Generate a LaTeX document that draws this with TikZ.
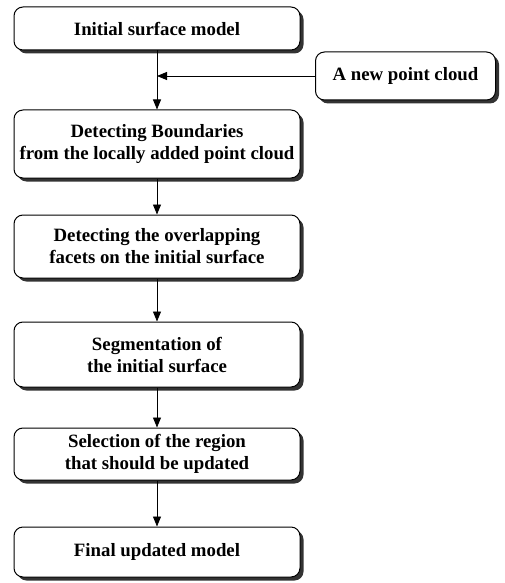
\documentclass[tikz,border=0pt]{standalone}
\usepackage{fontspec}
\setmainfont{Liberation Serif}
\usetikzlibrary{arrows.meta,shadows}
\begin{document}
\begin{tikzpicture}[x=1pt,y=1pt,
  flowbox/.style={draw=black, line width=1pt, rounded corners=9pt, fill=white,
    minimum width=286pt, align=center, font=\fontsize{18.8}{22}\selectfont\bfseries,
    drop shadow={shadow xshift=3.5pt, shadow yshift=-3.5pt, fill=black!80, opacity=1}},
  arr/.style={draw=black, line width=0.9pt, -{Triangle[length=10pt,width=8pt]}}]
\useasboundingbox (0,0) rectangle (505,-583);
\node[flowbox, minimum height=43pt] (b1) at (157,-28.5) {Initial surface model};
\node[flowbox, minimum width=180pt, minimum height=48pt] (pc) at (405.5,-76) {A new point cloud};
\node[flowbox, minimum height=68pt] (b2) at (157,-144) {Detecting Boundaries\\from the locally added point cloud};
\node[flowbox, minimum height=63pt] (b3) at (157,-246.5) {Detecting the overlapping\\facets on the initial surface};
\node[flowbox, minimum height=65pt] (b4) at (157,-354.5) {Segmentation of\\the initial surface};
\node[flowbox, minimum height=52pt] (b5) at (157,-454) {Selection of the region\\that should be updated};
\node[flowbox, minimum height=50pt] (b6) at (157,-552) {Final updated model};
\draw[arr] (b1) -- (b2);
\coordinate (m) at (b1.south |- pc.west);
\draw[arr] (pc.west) -- (m);
\draw[arr] (b2) -- (b3);
\draw[arr] (b3) -- (b4);
\draw[arr] (b4) -- (b5);
\draw[arr] (b5) -- (b6);
\end{tikzpicture}
\end{document}
